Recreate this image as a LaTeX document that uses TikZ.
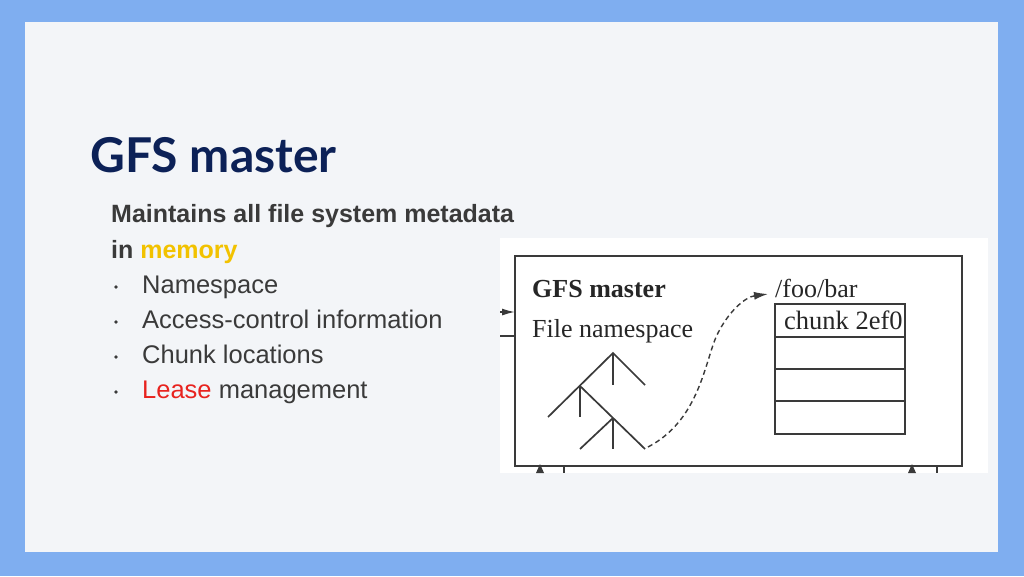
\documentclass[tikz,border=0pt]{standalone}
\usepackage{fontspec}
\setmainfont{Liberation Sans}
\newfontfamily\titlefont{Lato}
\newfontfamily\serifd{Liberation Serif}
\usetikzlibrary{arrows.meta}
\definecolor{outerbg}{HTML}{7FAEF0}
\definecolor{panel}{HTML}{F3F5F8}
\definecolor{navy}{HTML}{0C2157}
\definecolor{bodytxt}{HTML}{3A3A3A}
\definecolor{memc}{HTML}{F2C200}
\definecolor{leasec}{HTML}{E8231F}
\definecolor{lined}{HTML}{3A3A3A}
\tikzset{
  body/.style={anchor=base west,font=\fontsize{25.5}{30}\selectfont,text=bodytxt,inner sep=0},
  dline/.style={draw=lined,line width=1.7pt},
  dtext/.style={anchor=base west,inner sep=0,text=black!85},
}
\begin{document}
\begin{tikzpicture}[x=1pt,y=-1pt]
\fill[outerbg] (0,0) rectangle (1024,576);
\useasboundingbox (0,0) rectangle (1024,576);
\fill[panel] (25,22) rectangle (998,552);
\node[anchor=base west,inner sep=0,text=navy,font=\titlefont\bfseries\fontsize{48}{54}\selectfont] (title) at (90,172) {GFS master};
\node[body,font=\bfseries\fontsize{25}{30}\selectfont] (l1) at (111,222) {Maintains all file system metadata};
\node[body,font=\bfseries\fontsize{25}{30}\selectfont] (l2) at (111,258) {in \textcolor{memc}{memory}};
\foreach \y/\t [count=\i] in {293/Namespace,328/Access-control information,363/Chunk locations,398/{\textcolor{leasec}{Lease} management}}{
  \node[body,text=bodytxt] (b\i) at (142,\y) {\t};
  \fill[bodytxt] (116,\y-6) circle (1.8);
}
% image
\fill[white] (500,238) rectangle (988,473);
\draw[dline] (515,256) rectangle (962,466);
\node[dtext,font=\serifd\bfseries\fontsize{26}{30}\selectfont] (gm) at (532,297) {GFS master};
\node[dtext,font=\serifd\fontsize{26}{30}\selectfont] (fn) at (532,337) {File namespace};
\node[dtext,font=\serifd\fontsize{26}{30}\selectfont] (fb) at (775,297) {/foo/bar};
\draw[dline] (775,304) rectangle (905,434);
\foreach \y in {337,369,401} \draw[dline] (775,\y) -- (905,\y);
\node[dtext,font=\serifd\fontsize{26.5}{30}\selectfont] (ch) at (784,329) {chunk 2ef0};
% tree
\draw[dline] (548,417) -- (613,353) -- (645,385);
\draw[dline] (613,353) -- (613,385);
\draw[dline] (580,386) -- (580,417);
\draw[dline] (580,386) -- (645,449);
\draw[dline] (580,449) -- (613,418);
\draw[dline] (613,418) -- (613,449);
\coordinate (leaf) at (648,447);
\coordinate (tip) at (768,294);
\draw[lined,line width=1.4pt,dash pattern=on 5pt off 3.5pt,-{Latex[length=14pt,width=8pt]}] (leaf) .. controls (700,420) and (705,360) .. (717,335) .. controls (728,312) and (745,297) .. (tip);
% fragments
\draw[lined,line width=1.5pt,-{Latex[length=13pt,width=7pt]}] (500,312) -- (515,312);
\draw[lined,line width=1.5pt] (500,336) -- (515,336);
\draw[lined,line width=1.5pt] (564,466) -- (564,473);
\draw[lined,line width=1.5pt] (937,466) -- (937,473);
\fill[lined] (536,473) -- (540,464) -- (544,473) -- cycle;
\fill[lined] (908,473) -- (912,464) -- (916,473) -- cycle;
\end{tikzpicture}
\end{document}
